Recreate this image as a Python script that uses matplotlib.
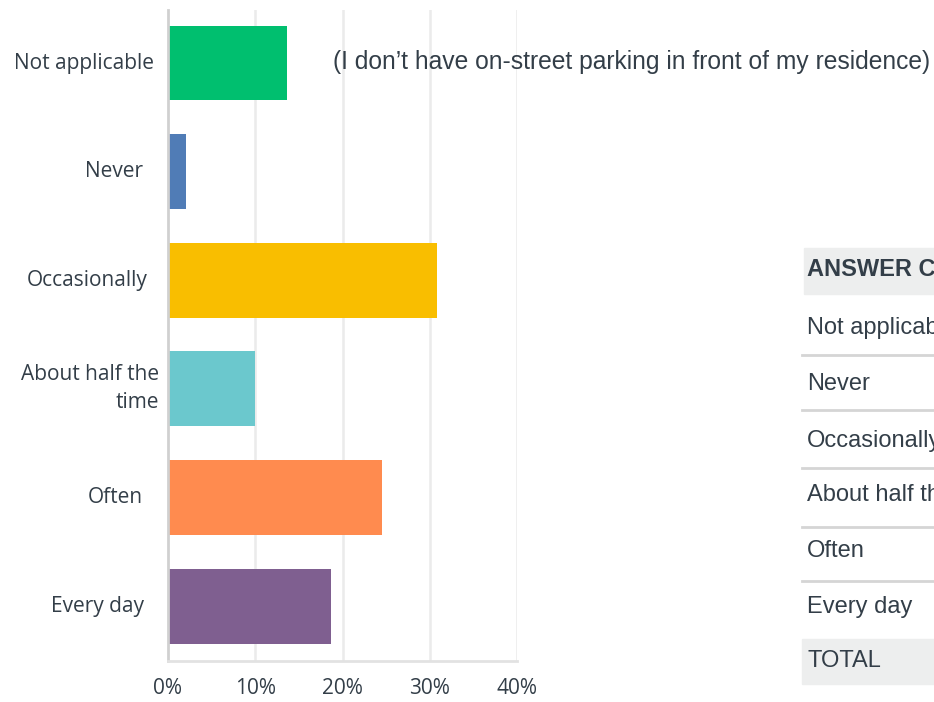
import matplotlib.pyplot as plt
from matplotlib.patches import Rectangle
from matplotlib.lines import Line2D

# answer choices, top to bottom
categories = ['Not applicable', 'Never', 'Occasionally',
              'About half the\ntime', 'Often', 'Every day']
percent = [13.65, 2.05, 30.8, 9.95, 24.5, 18.65]
colors = ['#00bf6f', '#507cb6', '#f9be00', '#6bc8cd', '#ff8b4f', '#7f5f90']
xticks = [0, 10, 20, 30, 40]
xtick_labels = ['0%', '10%', '20%', '30%', '40%']

note = '(I don\u2019t have on-street parking in front of my residence)'
table_header = 'ANSWER CHOICES'
table_rows = ['Not applicable', 'Never', 'Occasionally', 'About half the time',
              'Often', 'Every day']
table_total = 'TOTAL'

text_color = '#333e48'
W, H = 934, 702

fig = plt.figure(figsize=(W / 100, H / 100), dpi=100)
ax = fig.add_axes([168 / W, 1 - 661 / H, 349 / W, 651 / H])

y = list(range(len(categories)))
ax.barh(y, percent, height=0.69, color=colors, zorder=2)
ax.set_xlim(0, 40)
ax.set_ylim(5.506, -0.488)

ax.set_xticks(xticks)
ax.set_xticklabels(xtick_labels, fontsize=15, color=text_color, family='Open Sans')
ax.tick_params(axis='x', length=0, pad=12)
ax.set_yticks(y)
ax.set_yticklabels([])
ax.tick_params(axis='y', length=0)

# gridlines
for v in xticks[1:]:
    ax.axvline(v, color='#ebebeb', lw=1.8, zorder=1)
for s in ['top', 'right']:
    ax.spines[s].set_visible(False)
ax.spines['left'].set_color('#d0d0d0')
ax.spines['left'].set_linewidth(2)
ax.spines['bottom'].set_color('#e2e2e2')
ax.spines['bottom'].set_linewidth(2)

# category labels, right aligned with slightly uneven ends like the page
label_pad = [14, 25, 20, 9, 25, 24]
for yi, lab, p in zip(y, categories, label_pad):
    ax.annotate(lab, xy=(0, yi), xycoords=('axes fraction', 'data'),
                xytext=(-p, 0), textcoords='offset pixels',
                ha='right', va='center', fontsize=15, color=text_color,
                family='Open Sans', linespacing=1.45)

# overlapping note text
fig.text(333 / W, 1 - 62 / H, note, ha='left', va='center', fontsize=17.7,
         color=text_color, family=['Liberation Sans Narrow', 'Liberation Sans'])

# table on the right, cut by the page edge
fig.patches.append(Rectangle((804 / W, 1 - 294 / H), 200 / W, 46 / H,
                             transform=fig.transFigure, color='#edeeee', zorder=0))
fig.patches.append(Rectangle((802 / W, 1 - 684 / H), 200 / W, 45 / H,
                             transform=fig.transFigure, color='#edeeee', zorder=0))
fig.text(807 / W, 1 - 270 / H, table_header, ha='left', va='center', fontsize=17,
         weight='bold', color=text_color, family='Liberation Sans')
row_y = [328, 384, 441, 495, 551, 607]
line_y = [355, 410, 468, 527, 581]
for ry, lab in zip(row_y, table_rows):
    fig.text(807 / W, 1 - ry / H, lab, ha='left', va='center', fontsize=17,
             color=text_color, family='Liberation Sans')
for ly in line_y:
    fig.lines.append(Line2D([802 / W, 1], [1 - ly / H, 1 - ly / H],
                            transform=fig.transFigure, color='#d5d5d5', lw=2))
fig.text(807 / W, 1 - 661 / H, table_total, ha='left', va='center', fontsize=17,
         color=text_color, family='Liberation Sans')

fig.savefig('out.png', dpi=100)
